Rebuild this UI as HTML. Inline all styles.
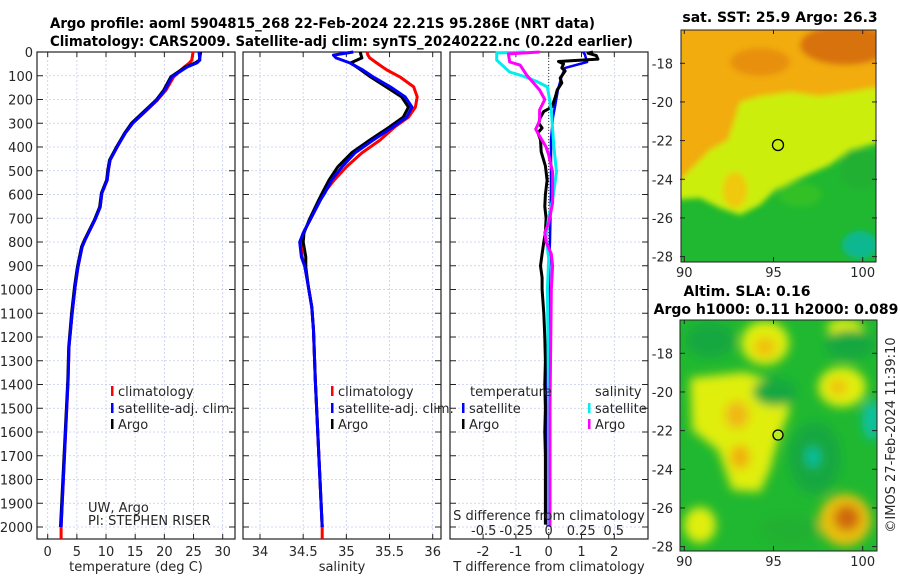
<!DOCTYPE html>
<html><head><meta charset="utf-8">
<style>
html,body{margin:0;padding:0;background:#fff;}
svg{display:block;font-family:"DejaVu Sans","Liberation Sans",sans-serif;}
.tk{font-size:13px;fill:#262626;}
.ttl{font-size:14px;font-weight:bold;fill:#000;}
</style></head>
<body>
<svg id="chart" width="900" height="580" viewBox="0 0 900 580" xmlns="http://www.w3.org/2000/svg">
<defs>
<filter id="b4" x="-20%" y="-20%" width="140%" height="140%"><feGaussianBlur stdDeviation="3"/></filter>
<filter id="b7" x="-20%" y="-20%" width="140%" height="140%"><feGaussianBlur stdDeviation="5"/></filter>
<clipPath id="c1"><rect x="681" y="30" width="195" height="232"/></clipPath>
<clipPath id="c2"><rect x="680" y="320" width="197" height="231"/></clipPath>
</defs>
<text class="ttl" x="50" y="28" textLength="545" lengthAdjust="spacingAndGlyphs">Argo profile: aoml 5904815_268 22-Feb-2024 22.21S 95.286E (NRT data)</text>
<text class="ttl" x="50" y="46" textLength="583" lengthAdjust="spacingAndGlyphs">Climatology: CARS2009. Satellite-adj clim: synTS_20240222.nc (0.22d earlier)</text>

<!-- SST map -->
<g clip-path="url(#c1)">
<rect x="681" y="30" width="195" height="232" fill="#20b830"/>
<g filter="url(#b4)">
<polygon fill="#ccee10" points="670,20 890,20 890,140 850,150 830,165 800,178 775,190 760,205 740,215 720,208 700,198 670,200"/>
<polygon fill="#f2ac10" points="670,20 890,20 890,85 850,92 820,96 790,92 760,96 740,102 728,140 710,150 695,165 670,190"/>
<ellipse cx="845" cy="45" rx="45" ry="20" fill="#d87208"/>
<ellipse cx="760" cy="62" rx="30" ry="14" fill="#e89008"/>
<ellipse cx="735" cy="190" rx="12" ry="18" fill="#f0c810"/>
<ellipse cx="860" cy="245" rx="18" ry="14" fill="#10b890"/>
<ellipse cx="800" cy="195" rx="22" ry="12" fill="#30c028"/>
<ellipse cx="860" cy="170" rx="20" ry="20" fill="#20b030"/>
</g>
<circle cx="778" cy="145" r="5.5" fill="none" stroke="#000" stroke-width="1.3"/>
</g>
<rect x="681" y="30" width="195" height="232" fill="none" stroke="#222" stroke-width="1"/>
<text class="ttl" x="780" y="22" text-anchor="middle">sat. SST: 25.9 Argo: 26.3</text>

<!-- SLA map -->
<g clip-path="url(#c2)">
<rect x="680" y="320" width="197" height="231" fill="#20b830"/>
<g filter="url(#b7)">
<ellipse cx="765" cy="343" rx="24" ry="22" fill="#e0ee10"/>
<ellipse cx="765" cy="347" rx="11" ry="10" fill="#f0c010"/>
<polygon fill="#e0ee10" points="690,378 745,372 775,382 790,410 778,440 770,470 760,492 732,490 718,450 692,430"/>
<ellipse cx="737" cy="415" rx="12" ry="14" fill="#f0b818"/>
<ellipse cx="740" cy="457" rx="10" ry="12" fill="#f0b010"/>
<ellipse cx="775" cy="392" rx="22" ry="14" fill="#18a840"/>
<ellipse cx="815" cy="458" rx="26" ry="36" fill="#18a840"/>
<ellipse cx="813" cy="457" rx="7" ry="10" fill="#10c0a0"/>
<ellipse cx="842" cy="387" rx="24" ry="20" fill="#e0ee10"/>
<ellipse cx="838" cy="387" rx="9" ry="8" fill="#f0c010"/>
<ellipse cx="872" cy="420" rx="10" ry="20" fill="#10c0a0"/>
<ellipse cx="700" cy="525" rx="16" ry="18" fill="#e0ee10"/>
<ellipse cx="845" cy="520" rx="26" ry="26" fill="#e8c010"/>
<ellipse cx="847" cy="518" rx="13" ry="13" fill="#d06808"/>
<ellipse cx="845" cy="328" rx="18" ry="9" fill="#e0ee10"/>
<ellipse cx="710" cy="340" rx="25" ry="18" fill="#18a840"/>
<ellipse cx="850" cy="345" rx="25" ry="15" fill="#18a840"/>
<ellipse cx="790" cy="530" rx="30" ry="15" fill="#20b030"/>
</g>
<circle cx="778" cy="435" r="5" fill="#b8ee20" stroke="#000" stroke-width="1.3"/>
</g>
<rect x="680" y="320" width="197" height="231" fill="none" stroke="#222" stroke-width="1"/>
<text class="ttl" x="747" y="296" text-anchor="middle">Altim. SLA: 0.16</text>
<text class="ttl" x="776" y="314" text-anchor="middle">Argo h1000: 0.11 h2000: 0.089</text>
<text class="tk" transform="translate(895,435) rotate(-90)" text-anchor="middle" font-size="12.5">©IMOS 27-Feb-2024 11:39:10</text>

<g id="plots"></g>
</svg>
<script>
// ---- data ----
const tDepth = [0,4,34,46,63,105,160,202,244,299,341,400,455,497,539,594,653,707,792,821,905,989,1099,1242,1381,2000];
const tSat   = [25.9,25.95,26.1,25.6,23.9,21.3,20.1,18.75,17.0,14.6,13.3,11.9,10.7,10.4,10.2,9.3,9.0,8.1,6.4,5.9,5.2,4.7,4.2,3.65,3.5,2.3];
const tArgo  = [26.2,26.2,26.0,25.3,23.6,21.1,19.9,18.6,16.8,14.4,13.2,11.8,10.6,10.3,10.1,9.2,8.9,8.0,6.3,5.8,5.1,4.6,4.1,3.6,3.45,2.2];
const tClimDepth = [0,4,34,46,63,105,160,202,244,299,341,400,455,497,539,594,653,707,792,821,905,989,1099,1242,1381,2000,2050];
const tClim  = [24.9,24.9,24.7,24.3,23.4,21.6,20.3,18.8,17.0,14.6,13.3,11.9,10.7,10.4,10.2,9.3,9.0,8.1,6.4,5.9,5.2,4.7,4.2,3.65,3.5,2.3,2.3];

const sDepth = [0,13,25,46,76,105,147,189,232,274,316,371,425,484,539,594,623,707,762,800,863,905,989,1074,1171,1381,2000];
const sSat   = [35.08,34.85,34.88,35.04,35.19,35.31,35.51,35.68,35.76,35.70,35.54,35.31,35.10,34.95,34.83,34.75,34.70,34.58,34.50,34.46,34.48,34.52,34.56,34.60,34.62,34.64,34.72];
const sArgo  = [35.16,35.17,35.18,35.05,35.17,35.28,35.46,35.64,35.72,35.66,35.50,35.27,35.06,34.90,34.80,34.72,34.68,34.57,34.51,34.50,34.53,34.53,34.56,34.60,34.62,34.64,34.72];
const sClimDepth = [0,13,25,46,76,105,147,189,232,274,316,371,425,484,539,594,623,707,762,800,863,905,989,1074,1171,1381,2000,2050];
const sClim  = [35.24,35.25,35.27,35.35,35.47,35.62,35.78,35.82,35.80,35.72,35.56,35.39,35.18,35.0,34.86,34.74,34.70,34.58,34.50,34.47,34.49,34.52,34.56,34.60,34.62,34.64,34.72,34.72];

const tdSatDepth = [0,10,42,67,100,160,232,274,370,580,790,1000,1500,2000];
const tdSat      = [1.05,1.1,1.17,0.5,0.4,0.28,0.19,0.13,0.07,0.07,0.04,0.0,-0.05,-0.03];
const tdArgoDepth = [0,5,15,30,40,50,67,80,110,130,160,190,210,232,250,280,300,320,340,370,420,480,540,600,650,700,760,800,850,900,950,1000,1100,1200,1300,1400,1500,1600,1700,1800,1900,1990];
const tdArgo      = [1.35,1.2,1.45,1.5,0.3,0.45,0.4,0.5,0.35,0.4,0.26,0.2,0.15,0.1,-0.15,-0.27,-0.3,-0.2,-0.33,-0.25,-0.23,-0.1,-0.05,-0.1,-0.12,-0.08,-0.1,-0.15,-0.2,-0.25,-0.2,-0.2,-0.15,-0.12,-0.1,-0.12,-0.1,-0.12,-0.1,-0.1,-0.1,-0.1];
const sdSatDepth = [0,4,34,84,101,122,147,244,400,505,623,695,780,870,1000,1500,2000];
const sdSat      = [-0.18,-0.4,-0.4,-0.3,-0.2,-0.1,-0.01,0.02,0.04,0.06,0.03,0.0,-0.02,0.0,-0.01,0.0,0.0];
const sdArgoDepth = [0,8,42,55,97,160,200,244,290,325,345,400,434,505,636,720,760,800,850,900,1000,1500,2000];
const sdArgo      = [-0.07,-0.31,-0.3,-0.22,-0.17,-0.07,-0.03,-0.07,-0.07,-0.1,-0.08,-0.02,0.0,0.03,0.03,0.0,-0.03,-0.02,0.02,0.03,0.02,0.01,0.01];

const depthTicks = [0,100,200,300,400,500,600,700,800,900,1000,1100,1200,1300,1400,1500,1600,1700,1800,1900,2000];
const tempTicks = [0,5,10,15,20,25,30];
const salTicks = [34,34.5,35,35.5,36];
const salTickLabels = ["34","34.5","35","35.5","36"];
const tdTicks = [-2,-1,0,1,2];
const sdTicks = [-0.5,-0.25,0,0.25,0.5];
const sdTickLabels = ["-0.5","-0.25","0","0.25","0.5"];
const latTicks = [-18,-20,-22,-24,-26,-28];
const lonTicks = [90,95,100];

// ---- scales ----
const yD = d => 52 + d*0.2375;
const xT = t => 47.7 + t*5.833;
const xS = s => 260 + (s-34)*86.35;
const xTd = t => 548.7 + t*32.8;
const xSd = s => 548.7 + s*130;
const yLat1 = la => 63.3 + (-18-la)*19.33;
const yLat2 = la => 353.3 + (-18-la)*19.33;
const xLon = lo => 684.3 + (lo-90)*17.84;

const NS="http://www.w3.org/2000/svg";
const root=document.getElementById('plots');
function mk(tag,attrs,parent){const e=document.createElementNS(NS,tag);for(const k in attrs)e.setAttribute(k,attrs[k]);(parent||root).appendChild(e);return e;}
function txt(s,x,y,anchor,parent,cls){const e=mk('text',{x:x,y:y,'text-anchor':anchor||'middle',class:cls||'tk'},parent);e.textContent=s;return e;}

const panels=[{x0:37,x1:235,name:'temperature'},{x0:243,x1:441,name:'salinity'},{x0:450,x1:648,name:'difference'}];
const Y0=52,Y1=539;
panels.forEach((p,i)=>{
  const g=mk('g',{});
  
  
  const vt = i==0?tempTicks.map(xT):(i==1?salTicks.map(xS):tdTicks.map(xTd));
  depthTicks.forEach(d=>{mk('line',{x1:p.x0,x2:p.x1,y1:yD(d),y2:yD(d),stroke:'#c4ccec','stroke-width':0.8,'stroke-dasharray':'2,2'},g);});
  vt.forEach(x=>{mk('line',{x1:x,x2:x,y1:Y0,y2:Y1,stroke:'#c4ccec','stroke-width':0.8,'stroke-dasharray':'2,2'},g);});
  depthTicks.forEach(d=>{mk('line',{x1:p.x0,x2:p.x0+6,y1:yD(d),y2:yD(d),stroke:'#222'},g);mk('line',{x1:p.x1-6,x2:p.x1,y1:yD(d),y2:yD(d),stroke:'#222'},g);});
  vt.forEach(x=>{mk('line',{x1:x,x2:x,y1:Y1,y2:Y1-5,stroke:'#222'},g);mk('line',{x1:x,x2:x,y1:Y0,y2:Y0+5,stroke:'#222'},g);});
  mk('rect',{x:p.x0,y:Y0,width:p.x1-p.x0,height:Y1-Y0,fill:'none',stroke:'#222','stroke-width':1.2},g);
});
depthTicks.forEach(d=>{const t=txt(String(d),33,yD(d)+5,'end');

});
tempTicks.forEach((v,i)=>{const t=txt(String(v),xT(v),556);

});
salTicks.forEach((v,i)=>{const t=txt(salTickLabels[i],xS(v),556);

});
tdTicks.forEach(v=>{const t=txt(String(v),xTd(v),556);

});
let e;
e=txt('temperature (deg C)',136,571);


e=txt('salinity',342,571);


e=txt('T difference from climatology',549,571);



mk('line',{x1:xTd(0),x2:xTd(0),y1:Y0,y2:Y1,stroke:'#333','stroke-width':1,'stroke-dasharray':'1,2'});

function line(xs,ds,sx,color,name,w){
  const pts=xs.map((v,i)=>sx(v).toFixed(1)+','+yD(ds[i]).toFixed(1)).join(' ');
  const l=mk('polyline',{points:pts,fill:'none',stroke:color,'stroke-width':w||3,'stroke-linejoin':'round'});
  
  
}
line(tClim,tClimDepth,xT,'#ff0000','temperature-climatology-line');
line(tArgo,tDepth,xT,'#000000','temperature-argo-line');
line(tSat,tDepth,xT,'#0000ff','temperature-satellite-line');
line(sClim,sClimDepth,xS,'#ff0000','salinity-climatology-line');
line(sArgo,sDepth,xS,'#000000','salinity-argo-line');
line(sSat,sDepth,xS,'#0000ff','salinity-satellite-line');
line(tdSat,tdSatDepth,xTd,'#0000ff','t-diff-satellite-line',2.5);
line(tdArgo,tdArgoDepth,xTd,'#000000','t-diff-argo-line',3);
line(sdSat,sdSatDepth,xSd,'#00eeee','s-diff-satellite-line',3);
line(sdArgo,sdArgoDepth,xSd,'#ff00ff','s-diff-argo-line',3);

e=txt('S difference from climatology',549,520);


sdTicks.forEach((v,i)=>{const t=txt(sdTickLabels[i],xSd(v),535);

});

function leg(x,y,color,label,name){
  const g=mk('g',{});
  
  
  mk('rect',{x:x,y:y-6,width:2.5,height:10,fill:color},g);
  txt(label,x+7,y+4,'start',g);
}
leg(111,392,'#ff0000','climatology','legend-entry-climatology');
leg(111,409,'#0000ff','satellite-adj. clim.','legend-entry-satellite-adj');
leg(111,425,'#000000','Argo','legend-entry-argo');
leg(331,392,'#ff0000','climatology','legend-entry-climatology-sal');
leg(331,409,'#0000ff','satellite-adj. clim.','legend-entry-satellite-adj-sal');
leg(331,425,'#000000','Argo','legend-entry-argo-sal');
e=txt('temperature',470,396,'start');


e=txt('salinity',595,396,'start');


leg(462,409,'#0000ff','satellite','legend-entry-t-satellite');
leg(462,425,'#000000','Argo','legend-entry-t-argo');
leg(588,409,'#00eeee','satellite','legend-entry-s-satellite');
leg(588,425,'#ff00ff','Argo','legend-entry-s-argo');
e=txt('UW, Argo',88,512,'start');
e.setAttribute('font-size','11');


e=txt('PI: STEPHEN RISER',88,525,'start');
e.setAttribute('font-size','11');



[[yLat1,30,262,566-289],[yLat2,320,551,566]].forEach((m,k)=>{
  latTicks.forEach(la=>{const y=m[0](la);
    mk('line',{x1:680,x2:685,y1:y,y2:y,stroke:'#222'});mk('line',{x1:872,x2:877,y1:y,y2:y,stroke:'#222'});
    const t=txt(String(la),673,y+5,'end');
    
    });
  lonTicks.forEach(lo=>{const x=xLon(lo);
    mk('line',{x1:x,x2:x,y1:m[2]-5,y2:m[2],stroke:'#222'});mk('line',{x1:x,x2:x,y1:m[1],y2:m[1]+4,stroke:'#222'});
    const t=txt(String(lo),x,m[3]);
    
    });
});
</script>
</body></html>
